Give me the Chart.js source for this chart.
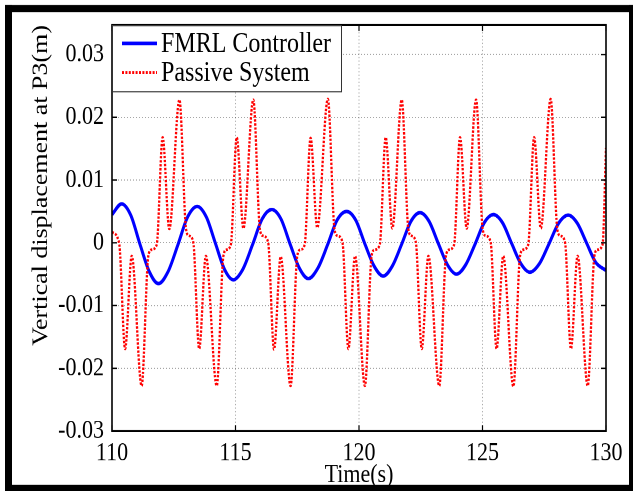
<!DOCTYPE html>
<html><head><meta charset="utf-8">
<script src="https://cdn.jsdelivr.net/npm/chart.js@4"></script>
<style>
html,body{margin:0;padding:0;background:#fff;overflow:hidden;}
#wrap{width:633px;height:491px;position:relative;overflow:hidden;background:#fff;}
#c{position:absolute;left:0;top:0;transform-origin:0 0;transform:scaleY(1.18029);}
</style></head><body><div id="wrap"><canvas id="c" width="633" height="416"></canvas></div>
<script>
const xTicks=[110,115,120,125,130];
const xTickLabels=['110','115','120','125','130'];
const yTicks=[-0.03,-0.02,-0.01,0,0.01,0.02,0.03];
const yTickLabels=['-0.03','-0.02','-0.01','0','0.01','0.02','0.03'];
const seriesNames=['FMRL Controller','Passive System'];
const xTitle='Time(s)';
const yTitle='Vertical displacement at P3(m)';

const fmrlTime=[110.00,110.39,110.76,111.13,111.51,111.88,112.27,112.67,113.06,113.45,113.82,114.18,114.55,114.91,115.30,115.69,116.08,116.47,116.84,117.21,117.58,117.95,118.34,118.73,119.11,119.50,119.87,120.24,120.61,120.98,121.35,121.73,122.10,122.47,122.84,123.21,123.58,123.95,124.32,124.70,125.07,125.44,125.81,126.18,126.55,126.92,127.31,127.70,128.08,128.47,128.84,129.21,129.58,130.00];
const fmrlDisp=[0.0045,0.0062,0.0044,-0.0002,-0.0046,-0.0065,-0.0046,-0.0003,0.0041,0.0058,0.0041,0.0000,-0.0042,-0.0059,-0.0042,-0.0003,0.0038,0.0053,0.0038,-0.0002,-0.0040,-0.0057,-0.0040,-0.0003,0.0036,0.0050,0.0036,-0.0002,-0.0037,-0.0053,-0.0037,-0.0002,0.0034,0.0048,0.0034,-0.0001,-0.0035,-0.0050,-0.0035,-0.0002,0.0032,0.0045,0.0032,-0.0001,-0.0033,-0.0047,-0.0033,-0.0001,0.0031,0.0044,0.0031,0.0000,-0.0031,-0.0044];

const passiveTime=[110.00,110.29,
110.53,110.80,111.20,111.47,111.60,111.81,112.05,112.32,112.73,113.00,113.13,113.29,
113.53,113.80,114.24,114.51,114.64,114.81,115.05,115.32,115.72,115.99,116.12,116.32,
116.56,116.83,117.23,117.50,117.63,117.80,118.04,118.31,118.74,119.01,119.14,119.33,
119.57,119.84,120.24,120.51,120.64,120.84,121.08,121.35,121.73,122.00,122.13,122.30,
122.54,122.81,123.25,123.52,123.65,123.85,124.09,124.36,124.74,125.01,125.14,125.33,
125.57,125.84,126.25,126.52,126.65,126.85,127.09,127.36,127.76,128.03,128.16,128.34,
128.58,128.85,129.26,129.53,129.66,129.86,130.00];
const passiveDisp=[0.0017,-0.0001,
-0.0169,-0.0021,-0.0228,-0.0021,-0.0011,-0.0003,0.0168,0.0022,0.0228,0.0021,0.0011,0.0001,
-0.0169,-0.0021,-0.0228,-0.0021,-0.0011,-0.0003,0.0168,0.0023,0.0228,0.0021,0.0011,0.0001,
-0.0170,-0.0022,-0.0228,-0.0021,-0.0011,-0.0003,0.0167,0.0024,0.0229,0.0021,0.0011,0.0001,
-0.0169,-0.0021,-0.0228,-0.0021,-0.0011,-0.0003,0.0168,0.0023,0.0228,0.0021,0.0011,0.0001,
-0.0169,-0.0021,-0.0228,-0.0021,-0.0011,-0.0003,0.0168,0.0023,0.0228,0.0021,0.0011,0.0001,
-0.0169,-0.0021,-0.0229,-0.0021,-0.0011,-0.0003,0.0168,0.0023,0.0229,0.0021,0.0011,0.0001,
-0.0169,-0.0021,-0.0228,-0.0021,-0.0011,-0.0003,0.0151];

const FONT='Liberation Serif';
Chart.defaults.font.family=FONT;
Chart.defaults.color='#000';

const decor={id:'decor',afterDraw(chart){
  const {ctx,chartArea:a,scales:{x,y}}=chart;
  ctx.save();
  ctx.setLineDash([]);
  ctx.strokeStyle='#000';
  ctx.lineWidth=1.2;
  ctx.beginPath();
  xTicks.forEach(v=>{const p=x.getPixelForValue(v);ctx.moveTo(p,a.bottom);ctx.lineTo(p,a.bottom-5);ctx.moveTo(p,a.top);ctx.lineTo(p,a.top+5);});
  yTicks.forEach(v=>{const p=y.getPixelForValue(v);ctx.moveTo(a.left,p);ctx.lineTo(a.left+5,p);ctx.moveTo(a.right,p);ctx.lineTo(a.right-5,p);});
  ctx.stroke();
  ctx.lineWidth=1.6;
  ctx.strokeRect(a.left,a.top,a.right-a.left,a.bottom-a.top);
  // legend
  ctx.font='24px "'+FONT+'"';
  const tw=Math.max(...chart.data.datasets.map(d=>ctx.measureText(d.label).width));
  const lx=a.left, ly=a.top, textX=a.left+49;
  const boxR=textX+tw+10, boxB=a.top+56;
  ctx.fillStyle='#fff';
  ctx.fillRect(lx,ly,boxR-lx,boxB-ly);
  ctx.lineWidth=1;
  ctx.strokeStyle='#333';
  ctx.strokeRect(lx+0.5,ly+0.5,boxR-lx,boxB-ly);
  chart.data.datasets.forEach((d,i)=>{
    const cy=a.top+15.5+i*24.6;
    ctx.beginPath();
    ctx.setLineDash(d.borderDash||[]);
    ctx.strokeStyle=d.borderColor;
    ctx.lineWidth=d.borderWidth;
    ctx.moveTo(a.left+10,cy);ctx.lineTo(a.left+45,cy);
    ctx.stroke();
    ctx.setLineDash([]);
    ctx.fillStyle='#000';
    ctx.textBaseline='middle';
    ctx.textAlign='left';
    ctx.fillText(d.label,textX,cy+1);
  });
  ctx.fillStyle='#000';
  ctx.fillRect(5,4.2,7,412);
  ctx.fillRect(5,4.2,628,6);
  ctx.fillRect(629,4.2,4,412);
  ctx.fillRect(5,410.8,628,6);
  ctx.restore();
}};

new Chart(document.getElementById('c'),{
  type:'line',
  data:{datasets:[
    {label:seriesNames[0],data:fmrlTime.map((t,i)=>({x:t,y:fmrlDisp[i]})),borderColor:'#0000ff',backgroundColor:'#0000ff',borderWidth:3,pointRadius:0,cubicInterpolationMode:'monotone',order:1},
    {label:seriesNames[1],data:passiveTime.map((t,i)=>({x:t,y:passiveDisp[i]})),borderColor:'#ff0000',backgroundColor:'#ff0000',borderWidth:2.3,borderDash:[2,1.4],pointRadius:0,cubicInterpolationMode:'monotone',order:0}
  ]},
  plugins:[decor],
  options:{
    responsive:false,animation:false,devicePixelRatio:2,
    layout:{padding:{left:0,top:19.5,right:27,bottom:0}},
    plugins:{
      legend:{display:false},
      tooltip:{enabled:false}
    },
    scales:{
      x:{type:'linear',min:110,max:130,
        afterFit:s=>{s.height=50.8;},
        afterBuildTicks:s=>{s.ticks=xTicks.map(v=>({value:v}));},
        ticks:{font:{family:FONT,size:22},color:'#000',padding:6,maxRotation:0,callback:(v)=>{const i=xTicks.indexOf(v);return i>=0?xTickLabels[i]:'';}},
        grid:{color:'rgba(0,0,0,0.35)',lineWidth:1,drawTicks:false},
        border:{display:false,dash:[1,2]},
        title:{display:true,text:xTitle,font:{family:FONT,size:22},color:'#000',padding:{top:0,bottom:0}}
      },
      y:{type:'linear',min:-0.03,max:0.0347,
        afterFit:s=>{s.width=112;},
        afterBuildTicks:s=>{s.ticks=yTicks.map(v=>({value:v}));},
        ticks:{font:{family:FONT,size:22},color:'#000',padding:8,callback:(v)=>{const i=yTicks.findIndex(t=>Math.abs(t-v)<1e-9);return i>=0?yTickLabels[i]:'';}},
        grid:{color:'rgba(0,0,0,0.35)',lineWidth:1,drawTicks:false},
        border:{display:false,dash:[1,2]},
        title:{display:true,text:yTitle,align:'end',font:{family:FONT,size:22},color:'#000',padding:{top:28,bottom:0}}
      }
    }
  }
});
</script></body></html>
